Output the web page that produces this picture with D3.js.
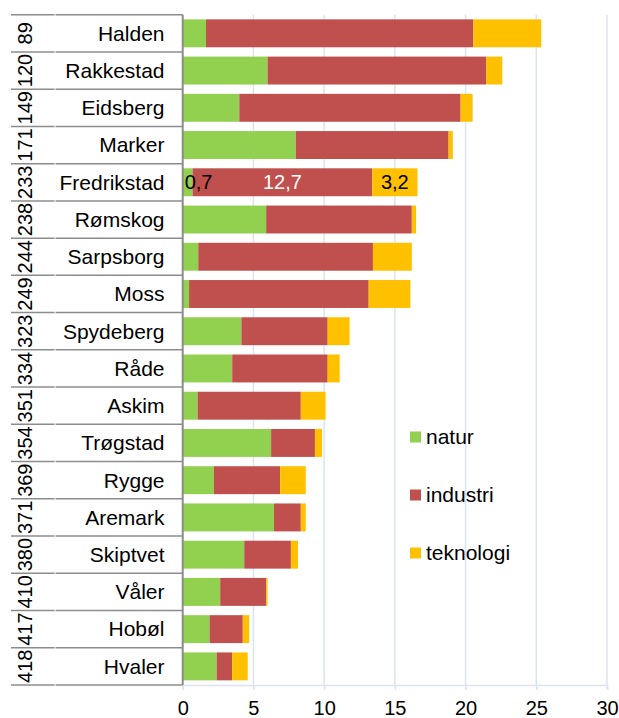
<!DOCTYPE html>
<html>
<head>
<meta charset="utf-8">
<script src="https://cdn.jsdelivr.net/npm/d3@7"></script>
<style>
  body { margin: 0; background: #fff; }
  text { font-family: "Liberation Sans", Arial, sans-serif; font-size: 20px; fill: #000; }
  text.navn, .legend text { font-size: 21px; }
</style>
</head>
<body>
<div id="chart"></div>
<script>
// kommuner, rangering og verdier
var kommuner = ["Halden", "Rakkestad", "Eidsberg", "Marker", "Fredrikstad", "Rømskog", "Sarpsborg", "Moss",
    "Spydeberg", "Råde", "Askim", "Trøgstad", "Rygge", "Aremark", "Skiptvet", "Våler", "Hobøl", "Hvaler"];
var rang = ["89", "120", "149", "171", "233", "238", "244", "249", "323", "334", "351", "354", "369", "371", "380", "410", "417", "418"];
var natur =     [1.65, 6.0, 4.0, 8.0, 0.7, 5.9, 1.1, 0.45, 4.15, 3.5, 1.05, 6.25, 2.2, 6.45, 4.35, 2.65, 1.9, 2.4];
var industri =  [18.9, 15.45, 15.65, 10.8, 12.7, 10.3, 12.35, 12.7, 6.1, 6.75, 7.3, 3.1, 4.7, 1.9, 3.3, 3.25, 2.35, 1.1];
var teknologi = [4.8, 1.15, 0.85, 0.3, 3.2, 0.3, 2.75, 2.95, 1.55, 0.85, 1.75, 0.5, 1.8, 0.35, 0.5, 0.1, 0.45, 1.1];
var serier = ["natur", "industri", "teknologi"];
var farger = ["#92d050", "#c0504d", "#ffc000"];
var xTicks = [0, 5, 10, 15, 20, 25, 30];
var merket = "Fredrikstad";

var svg = d3.select("#chart").append("svg"),
    width = 619,
    height = 718;
svg.attr("width", width).attr("height", height);

var top0 = 14.7, bottom0 = 685;

var x = d3.scaleLinear().domain([0, 30]).range([182.7, 607]);
var y = d3.scaleBand().domain(kommuner).range([top0, bottom0])
    .paddingInner(0.25).paddingOuter(0.125);
var color = d3.scaleOrdinal().domain(serier).range(farger);

var rows = kommuner.map(function(k, i) {
    return { kommune: k, natur: natur[i], industri: industri[i], teknologi: teknologi[i] };
});
var stacked = d3.stack().keys(serier)(rows);

// gridlines
svg.append("g")
    .selectAll("line")
    .data(xTicks.slice(1))
    .enter().append("line")
    .attr("x1", function(d) { return x(d); })
    .attr("x2", function(d) { return x(d); })
    .attr("y1", top0)
    .attr("y2", bottom0)
    .attr("stroke", "#dae3f1")
    .attr("stroke-width", 1.5);

// bottom axis
var xAxis = svg.append("g")
    .attr("transform", "translate(0," + bottom0 + ")")
    .call(d3.axisBottom(x).tickValues(xTicks).tickSize(5).tickPadding(11));
xAxis.select(".domain").attr("stroke", "#dae3f1").attr("stroke-width", 1.5);
xAxis.selectAll(".tick line").attr("stroke", "#dae3f1").attr("stroke-width", 1.5);
xAxis.selectAll(".tick text").style("font-size", "20px").attr("fill", "#000");

// bars
var layer = svg.append("g")
    .selectAll("g")
    .data(stacked)
    .enter().append("g")
    .attr("fill", function(d) { return color(d.key); });

layer.selectAll("rect")
    .data(function(d) { return d; })
    .enter().append("rect")
    .attr("x", function(d) { return x(d[0]); })
    .attr("width", function(d) { return x(d[1]) - x(d[0]); })
    .attr("y", function(d) { return y(d.data.kommune); })
    .attr("height", y.bandwidth());

// data labels for Fredrikstad
var lab = svg.append("g");
stacked.forEach(function(s) {
    var d = s.find(function(p) { return p.data.kommune === merket; });
    var t = lab.append("text")
        .attr("y", y(merket) + y.bandwidth() / 2)
        .attr("dy", "0.35em")
        .attr("text-anchor", "middle")
        .style("fill", s.key === "industri" ? "#fff" : "#000")
        .text(String(d.data[s.key]).replace(".", ","));
    var cx = (x(d[0]) + x(d[1])) / 2;
    var w = t.node().getComputedTextLength();
    if (cx - w / 2 < x(0) + 2) cx = x(0) + 2 + w / 2;
    t.attr("x", cx);
});

// category table on the left
var step = y.step();
var table = svg.append("g");
var lines = d3.range(kommuner.length + 1);
table.selectAll("line.a")
    .data(lines)
    .enter().append("line")
    .attr("class", "a")
    .attr("x1", 11).attr("x2", 54.5)
    .attr("y1", function(i) { return top0 + i * step; })
    .attr("y2", function(i) { return top0 + i * step; })
    .attr("stroke", "#8c8c8c").attr("stroke-width", 1.5);
table.selectAll("line.b")
    .data(lines)
    .enter().append("line")
    .attr("class", "b")
    .attr("x1", 55.5).attr("x2", 182.7)
    .attr("y1", function(i) { return top0 + i * step; })
    .attr("y2", function(i) { return top0 + i * step; })
    .attr("stroke", "#8c8c8c").attr("stroke-width", 1.5);
table.append("line")
    .attr("x1", x(0)).attr("x2", x(0))
    .attr("y1", top0).attr("y2", bottom0)
    .attr("stroke", "#8c8c8c").attr("stroke-width", 2);

table.selectAll("text.navn")
    .data(kommuner)
    .enter().append("text")
    .attr("class", "navn")
    .attr("x", 164.5)
    .attr("y", function(d) { return y(d) + y.bandwidth() / 2; })
    .attr("dy", "0.35em")
    .attr("text-anchor", "end")
    .text(function(d) { return d; });

table.selectAll("text.rang")
    .data(rang)
    .enter().append("text")
    .attr("class", "rang")
    .attr("text-anchor", "middle")
    .attr("transform", function(d, i) {
        return "translate(32," + (y(kommuner[i]) + y.bandwidth() / 2) + ") rotate(-90)";
    })
    .text(function(d) { return d; });

// legend
var legend = svg.append("g")
    .attr("class", "legend")
    .selectAll("g")
    .data(serier)
    .enter().append("g")
    .attr("transform", function(d, i) { return "translate(410," + (431.5 + i * 58) + ")"; });
legend.append("rect")
    .attr("width", 11).attr("height", 11)
    .attr("fill", function(d) { return color(d); });
legend.append("text")
    .attr("x", 16)
    .attr("y", 5.5)
    .attr("dy", "0.35em")
    .text(function(d) { return d; });
</script>
</body>
</html>
